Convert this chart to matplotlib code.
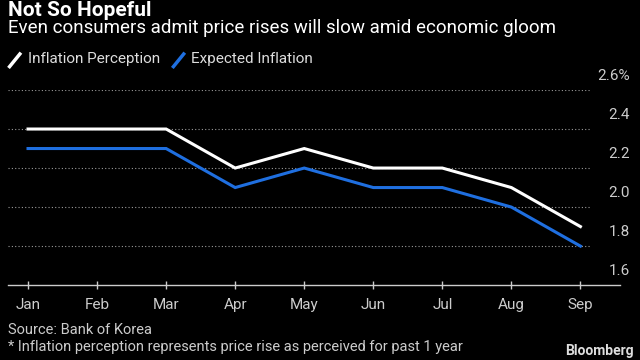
import matplotlib
matplotlib.use("Agg")
import matplotlib.pyplot as plt
from matplotlib.lines import Line2D

# ---------- Data ----------
months = ["Jan", "Feb", "Mar", "Apr", "May", "Jun", "Jul", "Aug", "Sep"]
inflation_perception = [2.4, 2.4, 2.4, 2.2, 2.3, 2.2, 2.2, 2.1, 1.9]
expected_inflation = [2.3, 2.3, 2.3, 2.1, 2.2, 2.1, 2.1, 2.0, 1.8]
y_ticks = [1.6, 1.8, 2.0, 2.2, 2.4, 2.6]
y_labels = ["1.6", "1.8", "2.0", "2.2", "2.4", "2.6%"]

BG = "black"
WHITE = "white"
BLUE = "#1f6fe0"
GREY = "#9a9a9a"
FONT = "Roboto"

fig = plt.figure(figsize=(6.4, 3.6), dpi=100, facecolor=BG)
ax = fig.add_axes([0.0125, 0.208, 0.957, 0.542], facecolor=BG)

x = list(range(len(months)))
ax.plot(x, inflation_perception, color=WHITE, lw=2.2, solid_joinstyle="miter")
ax.plot(x, expected_inflation, color=BLUE, lw=2.2, solid_joinstyle="miter")

ax.set_xlim(-0.29, 8.58)
ax.set_ylim(1.6, 2.6)

# dotted gridlines stopping short of the right-hand labels
for yv in y_ticks[1:]:
    ax.plot([-0.29, 8.15], [yv, yv], color=GREY, lw=0.8, ls=(0, (1, 2)), zorder=0)

# right-side labels sitting above each gridline
for yv, lab in zip(y_ticks, y_labels):
    ax.text(8.72, yv + 0.035, lab, color="#cccccc", fontsize=11, family=FONT,
            ha="right", va="bottom", clip_on=False)

for s in ["top", "right", "left"]:
    ax.spines[s].set_visible(False)
ax.spines["bottom"].set_color("#cccccc")
ax.spines["bottom"].set_linewidth(1.0)
ax.set_yticks([])
ax.set_xticks(x)
ax.set_xticklabels(months, color="#cccccc", fontsize=11, family=FONT)
ax.tick_params(axis="x", colors="#cccccc", direction="inout", length=6, width=1, pad=6)

# ---------- Titles ----------
fig.text(0.0125, 0.972, "Not So Hopeful", color=WHITE, fontsize=15,
         fontweight="bold", family=FONT, va="center")
fig.text(0.0125, 0.922, "Even consumers admit price rises will slow amid economic gloom",
         color=WHITE, fontsize=13.5, family=FONT, va="center")

# legend with slanted markers
fig.add_artist(Line2D([0.015, 0.031], [0.815, 0.850], color=WHITE, lw=2.5))
fig.text(0.043, 0.836, "Inflation Perception", color="#dddddd", fontsize=11,
         family=FONT, va="center")
fig.add_artist(Line2D([0.271, 0.287], [0.815, 0.850], color=BLUE, lw=2.5))
fig.text(0.299, 0.836, "Expected Inflation", color="#dddddd", fontsize=11,
         family=FONT, va="center")

# ---------- Footer ----------
fig.text(0.0125, 0.083, "Source: Bank of Korea", color="#cccccc", fontsize=10.5,
         family=FONT, va="center")
fig.text(0.0125, 0.036, "* Inflation perception represents price rise as perceived for past 1 year",
         color="#cccccc", fontsize=10.5, family=FONT, va="center")
fig.text(0.99, 0.025, "Bloomberg", color="#dddddd", fontsize=10,
         fontweight="bold", family=FONT, ha="right", va="center")

fig.savefig("out.png", dpi=100, facecolor=BG)
